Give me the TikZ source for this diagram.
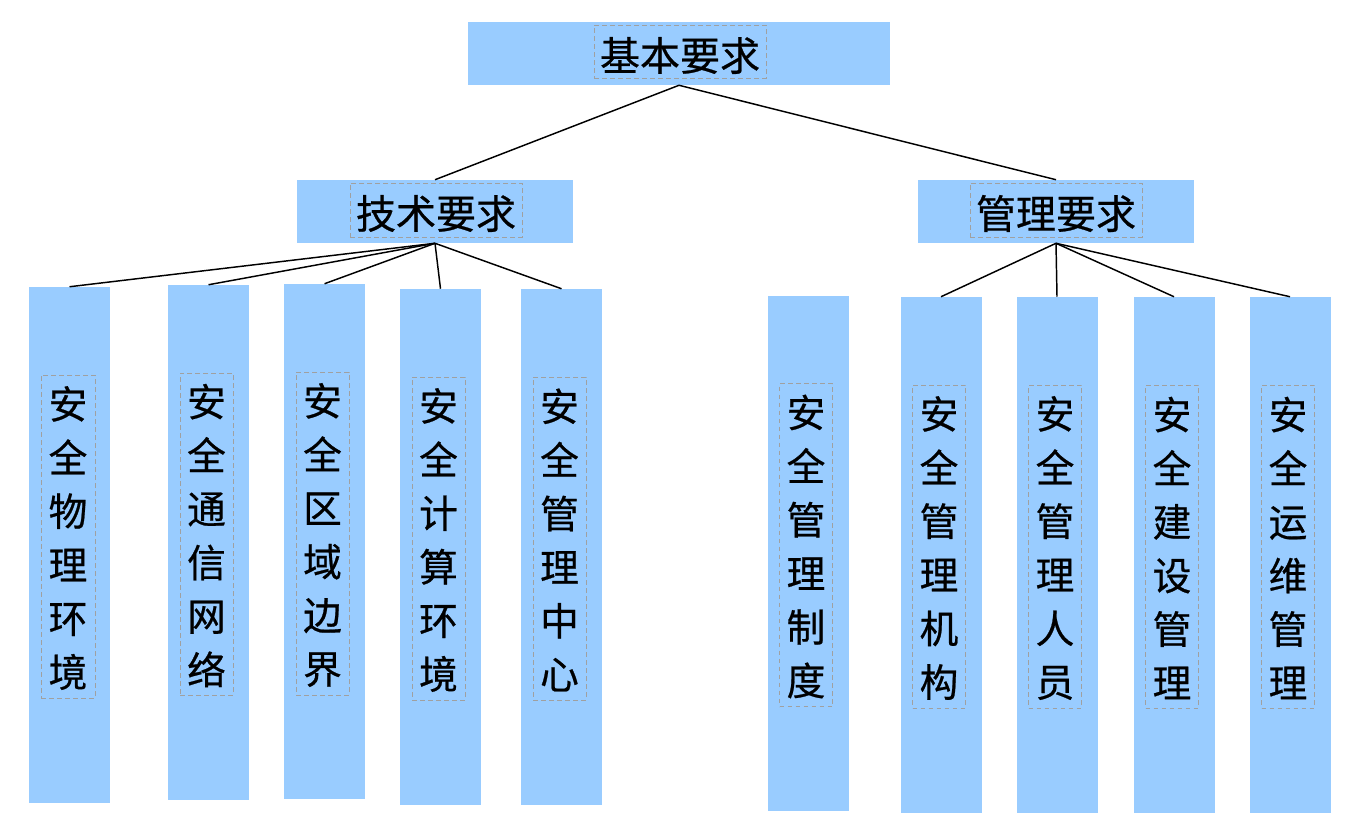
\documentclass[tikz,border=0pt]{standalone}
\usepackage{fontspec}
\newfontfamily\cjk[FakeBold=0.6]{Noto Sans CJK SC}
\definecolor{boxblue}{HTML}{99CCFF}
\definecolor{dashgray}{HTML}{A0A0A0}
\begin{document}
\begin{tikzpicture}[x=0.75pt,y=-0.75pt,
  box/.style 2 args={fill=boxblue, draw=none, inner sep=0pt, minimum width=#1*0.75pt, minimum height=#2*0.75pt},
  lbl/.style 2 args={draw=dashgray, dash pattern=on 3.6pt off 2.4pt, line width=0.75pt, inner sep=0pt,
     minimum width=#1*0.75pt, minimum height=#2*0.75pt},
  txt/.style={inner sep=0pt, align=center},
  hfont/.style={font=\cjk\fontsize{30}{36}\selectfont},
  vfont/.style={font=\cjk\fontsize{29}{40.2}\selectfont},
  link/.style={line width=1.1pt, black}]
\path[use as bounding box] (0,0) rectangle (1366,819);

% top level
\node[box={422}{63}] (top) at (679,53.5) {};
\node[lbl={172}{53}] (topf) at (680,51.5) {};
\node[txt, hfont] (topl) at (680,55.5) {基本要求};

% second level
\node[box={276}{63}] (tech) at (435,211.5) {};
\node[lbl={172}{54}] (techf) at (436,210) {};
\node[txt, hfont] (techl) at (436,213.5) {技术要求};
\node[box={276}{63}] (mgmt) at (1056,211.5) {};
\node[lbl={172}{54}] (mgmtf) at (1056,210) {};
\node[txt, hfont] (mgmtl) at (1056,213.5) {管理要求};

% columns (left)
\node[box={81}{516}] (c1) at (69.5,545) {};
\node[lbl={54}{323}] (c1f) at (68,536.5) {};
\node[txt, vfont] (c1l) at (68,538) {安\\全\\物\\理\\环\\境};
\node[box={81}{515}] (c2) at (208.5,542.5) {};
\node[lbl={53}{322}] (c2f) at (206.5,534) {};
\node[txt, vfont] (c2l) at (206.5,535.5) {安\\全\\通\\信\\网\\络};
\node[box={81}{515}] (c3) at (324.5,541.5) {};
\node[lbl={53}{323}] (c3f) at (322.5,533.5) {};
\node[txt, vfont] (c3l) at (322.5,535) {安\\全\\区\\域\\边\\界};
\node[box={81}{516}] (c4) at (440.5,547) {};
\node[lbl={53}{323}] (c4f) at (438.5,538.5) {};
\node[txt, vfont] (c4l) at (438.5,540) {安\\全\\计\\算\\环\\境};
\node[box={81}{516}] (c5) at (561.5,547) {};
\node[lbl={53}{323}] (c5f) at (559.5,538.5) {};
\node[txt, vfont] (c5l) at (559.5,540) {安\\全\\管\\理\\中\\心};

% columns (right)
\node[box={81}{515}] (c6) at (808,553.5) {};
\node[lbl={53}{323}] (c6f) at (806,545) {};
\node[txt, vfont] (c6l) at (806,546.5) {安\\全\\管\\理\\制\\度};
\node[box={81}{516}] (c7) at (941,555) {};
\node[lbl={53}{323}] (c7f) at (939,546.5) {};
\node[txt, vfont] (c7l) at (939,548) {安\\全\\管\\理\\机\\构};
\node[box={81}{516}] (c8) at (1057,555) {};
\node[lbl={53}{323}] (c8f) at (1055,546.5) {};
\node[txt, vfont] (c8l) at (1055,548) {安\\全\\管\\理\\人\\员};
\node[box={81}{516}] (c9) at (1174,555) {};
\node[lbl={53}{323}] (c9f) at (1172,546.5) {};
\node[txt, vfont] (c9l) at (1172,548) {安\\全\\建\\设\\管\\理};
\node[box={81}{516}] (c10) at (1290,555) {};
\node[lbl={53}{323}] (c10f) at (1288,546.5) {};
\node[txt, vfont] (c10l) at (1288,548) {安\\全\\运\\维\\管\\理};

% connectors
\draw[link] (top.south) -- (tech.north);
\draw[link] (top.south) -- (mgmt.north);
\foreach \c in {c1,c2,c3,c4,c5} \draw[link] (tech.south) -- (\c.north);
\foreach \c in {c7,c8,c9,c10} \draw[link] (mgmt.south) -- (\c.north);
\end{tikzpicture}
\end{document}
